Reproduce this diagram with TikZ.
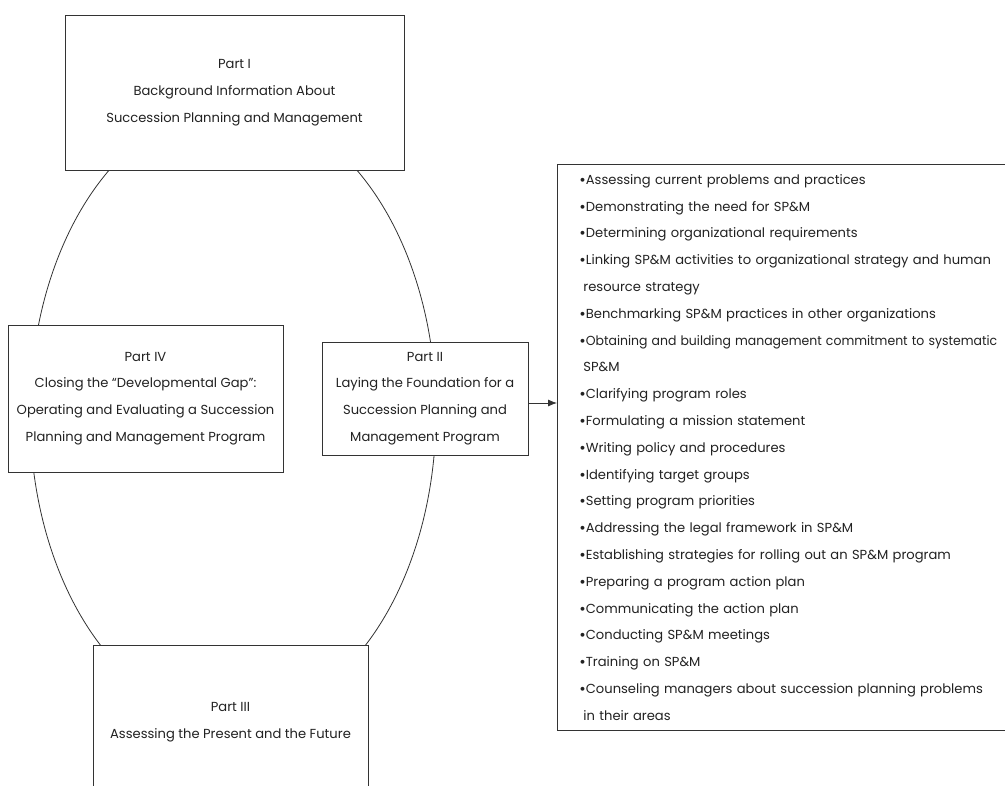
\documentclass[tikz,border=0pt]{standalone}
\usepackage{fontspec}
\setmainfont{Poppins}
\usetikzlibrary{arrows.meta}
\definecolor{ink}{HTML}{222222}
\definecolor{rule}{HTML}{333333}
\tikzset{
  partbox/.style={draw=rule, line width=0.8pt, fill=white, align=center,
    text=ink, inner sep=0pt, font=\fontsize{13.1}{26.8}\selectfont},
  listbox/.style={draw=rule, line width=0.8pt, fill=white, align=left,
    text=ink, inner xsep=22pt, inner ysep=0pt, anchor=north west,
    font=\fontsize{13.1}{26.8}\selectfont},
  ring/.style={draw=rule, line width=0.8pt},
  link/.style={draw=rule, line width=0.8pt, -{Latex[length=9pt,width=7pt]}}
}
\newcommand{\itm}{\raisebox{-1pt}{\scalebox{1.2}{\textbullet}}}
\newcommand{\cont}{\hspace*{4pt}}
% a slightly narrowed line, so the longest item stays inside the margin
\newcommand{\snug}[1]{\scalebox{0.95}[1]{#1}}
\begin{document}
\begin{tikzpicture}[x=1pt, y=-1pt]
  \useasboundingbox (0,0) rectangle (1005,786);
  \clip (0,0) rectangle (1005,786);

  % the cycle linking the four parts
  \draw[ring] (233,413) ellipse [x radius=203, y radius=306.5];

  % the four parts
  \node[partbox, minimum width=339pt, minimum height=155pt] (p1) at (234.5,93)
    {Part I\\Background Information About\\Succession Planning and Management};
  \node[partbox, minimum width=275pt, minimum height=147pt] (p4) at (145.5,398.5)
    {Part IV\\Closing the ``Developmental Gap'':\\Operating and Evaluating a Succession\\Planning and Management Program};
  \node[partbox, minimum width=206pt, minimum height=113pt] (p2) at (425,398.5)
    {Part II\\Laying the Foundation for a\\Succession Planning and\\Management Program};
  \node[partbox, minimum width=275pt, minimum height=155pt] (p3) at (230.5,722.5)
    {Part III\\Assessing the Present and the Future};

  % activities of Part II (the frame runs on past the right margin)
  \node[listbox, minimum height=566pt, text width=560pt] (acts) at (557,164)
    {\itm Assessing current problems and practices\\
     \itm Demonstrating the need for SP\&M\\
     \itm Determining organizational requirements\\
     \itm Linking SP\&M activities to organizational strategy and human\\
     \cont resource strategy\\
     \itm Benchmarking SP\&M practices in other organizations\\
     \itm \snug{Obtaining and building management commitment to systematic}\\
     \cont SP\&M\\
     \itm Clarifying program roles\\
     \itm Formulating a mission statement\\
     \itm Writing policy and procedures\\
     \itm Identifying target groups\\
     \itm Setting program priorities\\
     \itm Addressing the legal framework in SP\&M\\
     \itm Establishing strategies for rolling out an SP\&M program\\
     \itm Preparing a program action plan\\
     \itm Communicating the action plan\\
     \itm Conducting SP\&M meetings\\
     \itm Training on SP\&M\\
     \itm Counseling managers about succession planning problems\\
     \cont in their areas};

  \draw[link] ([yshift=-4.5pt]p2.east) -- ([yshift=-4.5pt]p2.east -| acts.west);
\end{tikzpicture}
\end{document}
